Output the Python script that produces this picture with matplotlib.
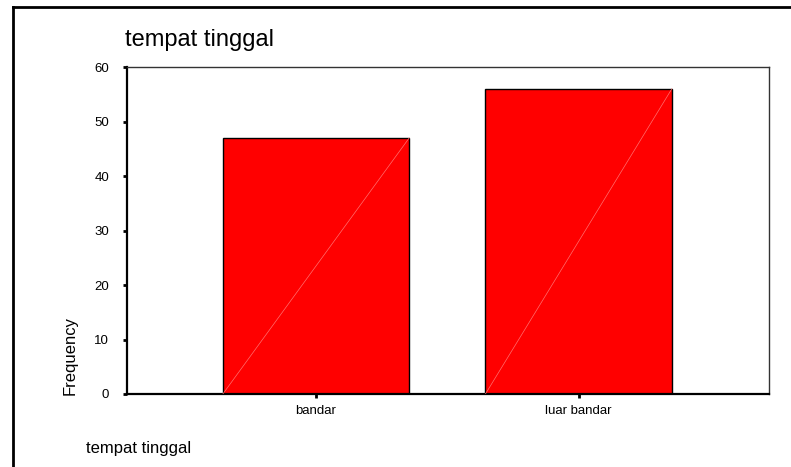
import matplotlib
matplotlib.use("Agg")
import matplotlib.pyplot as plt
from matplotlib.lines import Line2D

# data
categories = ["bandar", "luar bandar"]
frequency = [47, 56]
yticks = [0, 10, 20, 30, 40, 50, 60]

plt.rcParams["font.family"] = ["Liberation Sans", "DejaVu Sans"]

W, H = 791, 467
fig = plt.figure(figsize=(W / 100, H / 100), dpi=100)
ax = fig.add_axes([127 / W, 1 - 394 / H, (769 - 127) / W, (394 - 67) / H])

x = list(range(len(categories)))
bars = ax.bar(x, frequency, width=0.71, color="#ff0000", edgecolor="black", linewidth=1, zorder=2)

# SPSS style diagonal inside each bar
for b in bars:
    x0, y0 = b.get_x(), b.get_y()
    ax.plot([x0, x0 + b.get_width()], [y0, y0 + b.get_height()],
            color="#ff7070", lw=0.5, zorder=3)

ax.set_xlim(-0.72, 1.725)
ax.set_ylim(0, 60)
ax.set_yticks(yticks)
ax.set_xticks(x)
ax.set_xticklabels(categories, fontsize=9.5)
ax.tick_params(axis="y", labelsize=9.5, length=3, width=2, pad=10, direction="out")
ax.tick_params(axis="x", length=3, width=2, pad=5, direction="out")

for side in ["left", "bottom"]:
    ax.spines[side].set_linewidth(1.6)
    ax.spines[side].set_color("black")
for side in ["top", "right"]:
    ax.spines[side].set_linewidth(1.0)
    ax.spines[side].set_color("#333333")

# titles and labels
fig.text(125 / W, 1 - 40 / H, "tempat tinggal", fontsize=17, va="center", ha="left")
fig.text(86 / W, 1 - 448 / H, "tempat tinggal", fontsize=12, va="center", ha="left")
fig.text(70 / W, 1 - 395 / H, "Frequency", fontsize=12, rotation=90, va="bottom", ha="center")

# outer frame (left and top edges visible)
fig.add_artist(Line2D([13 / W, 13 / W], [0, 1 - 7 / H], transform=fig.transFigure, color="black", lw=2))
fig.add_artist(Line2D([13 / W, 1], [1 - 7 / H, 1 - 7 / H], transform=fig.transFigure, color="black", lw=2))

fig.savefig("out.png", dpi=100)
